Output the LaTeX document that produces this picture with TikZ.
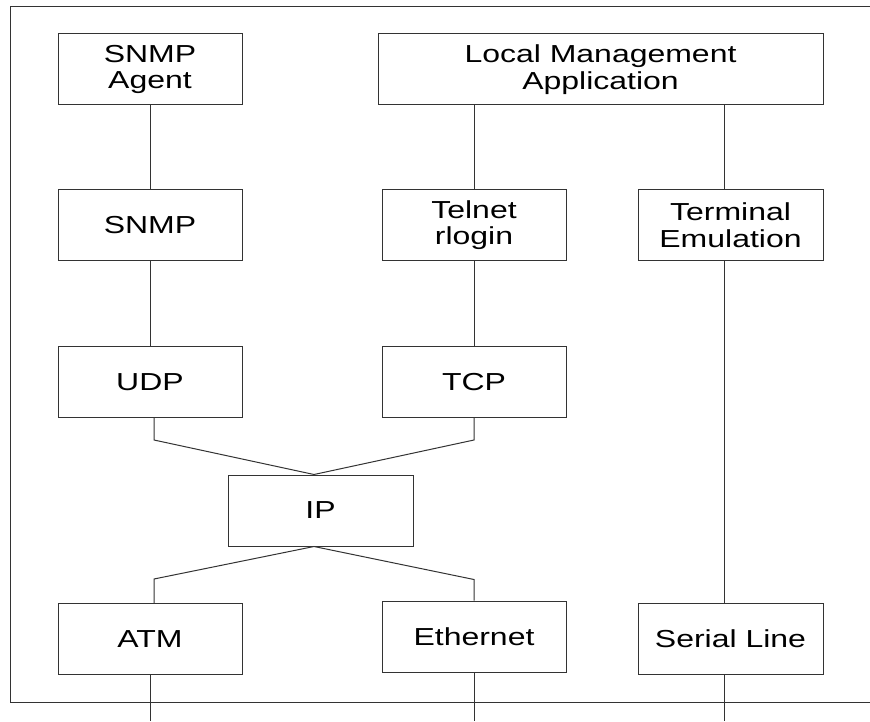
\documentclass[tikz,border=0pt]{standalone}
\usepackage{fontspec}
\setmainfont{Liberation Sans}[FakeStretch=1.3]
\begin{document}
\begin{tikzpicture}[x=0.5pt,y=-0.5pt,line width=0.5pt,draw=black!80,
				every node/.style={draw,align=center,inner sep=0pt,minimum height=35.5pt,
					font=\fontsize{12.3}{13.3}\selectfont},
				layer/.style={minimum width=92pt}]
\useasboundingbox (0,0) rectangle (870,721);
\draw (870,7) -- (10.5,7) -- (10.5,702) -- (870,702);
\node[layer] (agent) at (150,69.5) {SNMP\\Agent};
\node[minimum width=222.5pt] (lma) at (600.5,69.5) {Local Management\\Application};
\node[layer] (snmp) at (150,225) {SNMP};
\node[layer] (telnet) at (474,225) {Telnet\\rlogin};
\node[layer,minimum width=92.5pt] (term) at (730.5,225) {Terminal\\Emulation};
\node[layer] (udp) at (150,382) {UDP};
\node[layer] (tcp) at (474,382) {TCP};
\node[layer,minimum width=92.5pt] (ip) at (320.5,510.5) {IP};
\node[layer] (atm) at (150,639) {ATM};
\node[layer] (eth) at (474,636.5) {Ethernet};
\node[layer,minimum width=92.5pt] (serial) at (730.5,639) {Serial Line};
\coordinate (iptop) at ([xshift=-3.25pt]ip.north);
\coordinate (ipbot) at ([xshift=-3.25pt]ip.south);
\coordinate (bottom) at (0,721);
\draw (agent) -- (snmp);
\draw (snmp) -- (udp);
\draw (lma.south -| telnet.north) -- (telnet);
\draw (telnet) -- (tcp);
\draw ([xshift=-3.25pt]term.north) -- ([xshift=-3.25pt]term.north |- lma.south);
\draw ([xshift=-3.25pt]term.south) -- ([xshift=-3.25pt]serial.north);
\draw ([xshift=2pt]udp.south) -- ++(0,22) -- (iptop) -- ([yshift=-11pt]tcp.south) -- (tcp.south);
\draw ([xshift=2pt]atm.north) -- ++(0,-24) -- (ipbot) -- ([yshift=10.5pt]eth.north) -- (eth.north);
\draw (atm.south) -- (atm.south |- bottom);
\draw (eth.south) -- (eth.south |- bottom);
\draw ([xshift=-3.25pt]serial.south) -- ([xshift=-3.25pt]serial.south |- bottom);
\end{tikzpicture}
\end{document}
